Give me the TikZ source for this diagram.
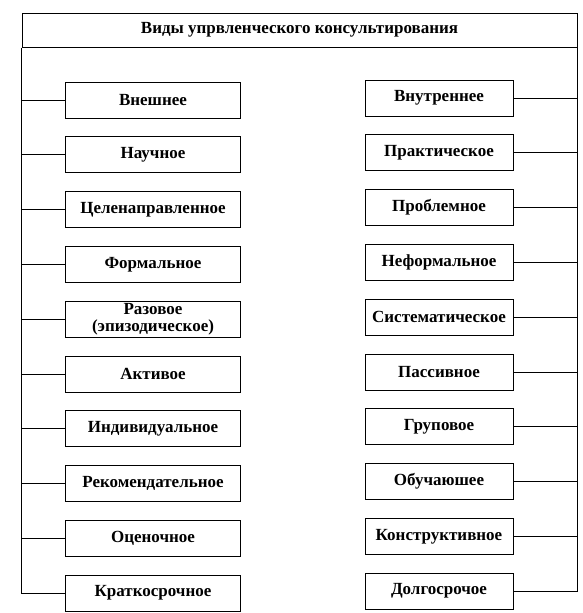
\documentclass[tikz,border=0pt]{standalone}
\usepackage{fontspec}
\setmainfont{Liberation Serif}
\usetikzlibrary{positioning}
\tikzset{
  kind/.style={draw, line width=1pt, minimum height=36pt, inner sep=1pt,
    align=center, font=\bfseries\fontsize{17}{17}\selectfont},
  leftkind/.style={kind, minimum width=175pt},
  rightkind/.style={kind, minimum width=148pt},
  link/.style={line width=1pt},
}
\begin{document}
\begin{tikzpicture}[x=1pt,y=-1pt]
    \useasboundingbox (0,0) rectangle (582,613);
    % Title box, its sides go on down as the two buses
    \node[kind, minimum width=555pt, minimum height=34pt] (title) at (299.5,30)
        {Виды упрвленческого консультирования};

    % Left column
    \foreach \txt [count=\i] in {Внешнее, Научное, Целенаправленное, Формальное,
        {Разовое\\(эпизодическое)}, Активое, Индивидуальное, Рекомендательное,
        Оценочное, Краткосрочное}
        \node[leftkind] (l\i) at (153,{100+54.8*(\i-1)}) {\txt};

    % Right column
    \foreach \txt [count=\i] in {Внутреннее, Практическое, Проблемное, Неформальное,
        Систематическое, Пассивное, Груповое, Обучаюшее, Конструктивное, Долгосрочое}
        \node[rightkind] (r\i) at (439,{98+54.8*(\i-1)}) {\txt};

    % Buses
    \draw[link] (title.south west) -- (title.west |- l10.west) -- (l10.west);
    \draw[link] (title.south east) -- (title.east |- r10.east) -- (r10.east);
    \foreach \i in {1,...,9} {
        \draw[link] (l\i.west) -- (l\i.west -| title.west);
        \draw[link] (r\i.east) -- (r\i.east -| title.east);
    }
\end{tikzpicture}
\end{document}
